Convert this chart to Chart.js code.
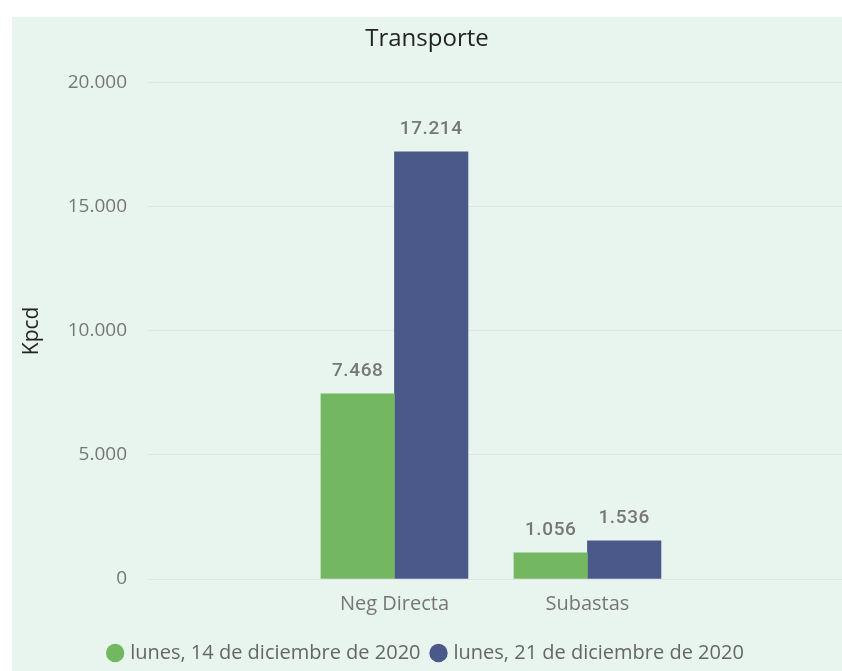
<!DOCTYPE html>
<html>
<head>
<meta charset="utf-8">
<script src="https://cdn.jsdelivr.net/npm/chart.js@4.4.1/dist/chart.umd.min.js"></script>
<style>
  html, body { margin: 0; padding: 0; background: #ffffff; }
  #wrap {
    position: absolute;
    left: 12px;
    top: 17px;
    width: 830px;
    height: 654px;
    background: #E7F5EE;
  }
</style>
</head>
<body>
<div id="wrap"><canvas id="chart"></canvas></div>
<script>
// datos del grafico
const categories = ['Neg Directa', 'Subastas'];
const seriesLabels = ['lunes, 14 de diciembre de 2020', 'lunes, 21 de diciembre de 2020'];
const valores14 = [7468, 1056];
const valores21 = [17214, 1536];
const yTicks = [0, 5000, 10000, 15000, 20000];

// formato con punto de miles
function fmt(n) {
    return String(Math.round(n)).replace(/\B(?=(\d{3})+(?!\d))/g, '.');
}

// etiquetas encima de las barras
const etiquetasPlugin = {
    id: 'etiquetas',
    afterDatasetsDraw(chart) {
        const ctx = chart.ctx;
        ctx.save();
        ctx.font = '500 19px Roboto';
        ctx.fillStyle = '#777777';
        ctx.textAlign = 'center';
        ctx.textBaseline = 'bottom';
        ctx.letterSpacing = '0.6px';
        chart.data.datasets.forEach((ds, i) => {
            chart.getDatasetMeta(i).data.forEach((bar, j) => {
                ctx.fillText(fmt(ds.data[j].y), bar.x, bar.y - 13);
            });
        });
        ctx.restore();
    }
};

const toPoints = arr => arr.map((v, i) => ({ x: i + 1, y: v }));

new Chart(document.getElementById('chart'), {
    type: 'bar',
    data: {
        datasets: [{
            label: seriesLabels[0],
            data: toPoints(valores14),
            backgroundColor: '#73B761',
            borderWidth: 0,
            barThickness: 73.5
        }, {
            label: seriesLabels[1],
            data: toPoints(valores21),
            backgroundColor: '#4A588A',
            borderWidth: 0,
            barThickness: 73.5
        }]
    },
    options: {
        responsive: true,
        maintainAspectRatio: false,
        animation: false,
        layout: { padding: { left: 0, right: 0, top: 0, bottom: -2 } },
        plugins: {
            title: {
                display: true,
                text: 'Transporte',
                color: '#252423',
                font: { family: 'Open Sans', size: 24, weight: 'normal' },
                padding: { top: 8, bottom: 29 }
            },
            legend: {
                position: 'bottom',
                labels: {
                    usePointStyle: true,
                    pointStyle: 'circle',
                    boxWidth: 10,
                    boxHeight: 13,
                    padding: 13,
                    color: '#666666',
                    font: { family: 'Open Sans', size: 20 }
                }
            },
            tooltip: { enabled: false }
        },
        scales: {
            x: {
                type: 'linear',
                offset: false,
                min: -0.277,
                max: 3.319,
                grid: { display: false, drawTicks: false },
                border: { display: false },
                afterBuildTicks: scale => {
                    scale.ticks = categories.map((c, i) => ({ value: i + 1 }));
                },
                afterFit: scale => { scale.height = 51; },
                ticks: {
                    padding: 13,
                    color: '#777777',
                    font: { family: 'Open Sans', size: 20 },
                    callback: v => categories[Math.round(v) - 1]
                }
            },
            y: {
                min: 0,
                max: 20000,
                afterBuildTicks: scale => {
                    scale.ticks = yTicks.map(v => ({ value: v }));
                },
                afterFit: scale => { scale.width = 136; },
                grid: { color: '#E3E3E3', lineWidth: 1, drawTicks: false },
                border: { display: false },
                ticks: {
                    padding: 21,
                    color: '#777777',
                    font: { family: 'Open Sans', size: 19 },
                    callback: v => fmt(v)
                },
                title: {
                    display: true,
                    text: 'Kpcd',
                    color: '#252423',
                    font: { family: 'Open Sans', size: 21 },
                    padding: { top: 7, bottom: 0 }
                }
            }
        }
    },
    plugins: [etiquetasPlugin]
});
</script>
</body>
</html>
